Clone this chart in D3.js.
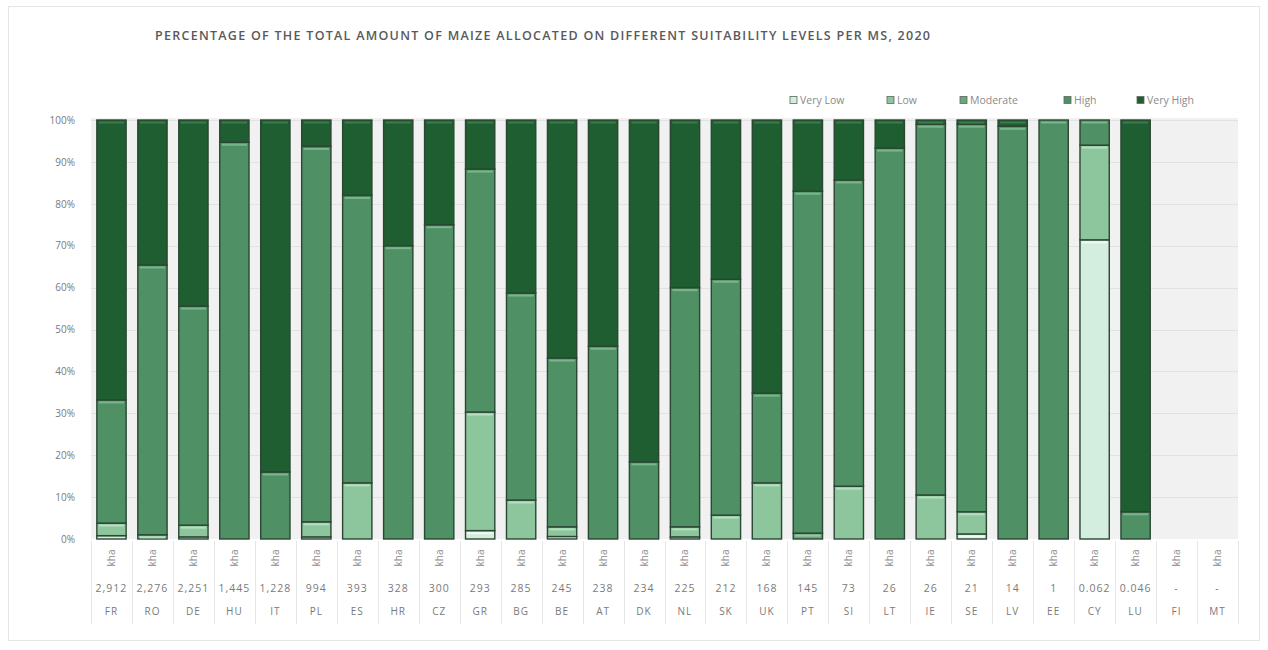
<!DOCTYPE html>
<html>
<head>
<meta charset="utf-8">
<script src="https://cdn.jsdelivr.net/npm/d3@7"></script>
<style>
  html, body { margin: 0; padding: 0; background: #fff; }
  svg { display: block; font-family: "Open Sans", "Noto Sans", sans-serif; }
</style>
</head>
<body>
<svg id="chart" width="1268" height="650"></svg>
<script>
// Member states, ordered by maize area
const countries = ["FR","RO","DE","HU","IT","PL","ES","HR","CZ","GR","BG","BE","AT","DK","NL","SK","UK","PT","SI","LT","IE","SE","LV","EE","CY","LU","FI","MT"];
// Total maize area per member state (thousand ha)
const totals = ["2,912","2,276","2,251","1,445","1,228","994","393","328","300","293","285","245","238","234","225","212","168","145","73","26","26","21","14","1","0.062","0.046","-","-"];
const unitLabel = "kha";

// Share of area (%) per suitability level
const veryLow  = [0.8, 0,   0.5, 0,    0,    0.5, 0,    0,  0,  2.0,  0,    0.6, 0,  0,    0.5, 0,    0,    0,    0,    0,    0,    1.2, 0,    0,   71.4, 0,    0, 0];
const low      = [3.0, 1.0, 2.8, 0,    0,    3.6, 13.4, 0,  0,  28.3, 9.3,  2.3, 0,  0,    2.4, 5.7,  13.4, 0,    12.6, 0,    10.5, 5.3, 0,    0,   22.6, 0,    0, 0];
const moderate = [0,   0,   0,   0,    0,    0,   0,    0,  0,  0,    0,    0,   0,  0,    0,   0,    0,    1.4,  0,    0,    0,    0,   0,    0,   0,    0,    0, 0];
const high     = [29.4,64.4,52.3,94.7, 16.0, 89.6,68.6, 70, 75, 58.0, 49.4, 40.3,46, 18.4, 57.1,56.3, 21.4, 81.6, 73.1, 93.3, 88.5, 92.5,98.5, 100, 6.0,  6.5,  0, 0];
const veryHigh = [66.8,34.6,44.4,5.3,  84.0, 6.3, 18.0, 30, 25, 11.7, 41.3, 56.8,54, 81.6, 40.0,38.0, 65.2, 17.0, 14.3, 6.7,  1.0,  1.0, 1.5,  0,   0,    93.5, 0, 0];

const levels = ["Very Low","Low","Moderate","High","Very High"];
const yTicks = [0,10,20,30,40,50,60,70,80,90,100];

const levelFill  = {"Very Low":"#d3eedf","Low":"#8dc59c","Moderate":"#6ea57f","High":"#4f9064","Very High":"#1f5e30"};
const levelShine = {"Very Low":"#eefaf3","Low":"#b5dfc0","Moderate":"#97c7a4","High":"#7ab68b","Very High":"#3b7d4c"};

const rows = countries.map((c, i) => ({
  country: c,
  "Very Low": veryLow[i], "Low": low[i], "Moderate": moderate[i],
  "High": high[i], "Very High": veryHigh[i]
}));

const svg = d3.select("#chart");

// outer frame
svg.append("rect").attr("x", 8.5).attr("y", 6.5).attr("width", 1251).attr("height", 634)
  .attr("fill", "#fff").attr("stroke", "#e6e6e6");

const plot = {left: 91, right: 1238, top: 120, bottom: 539};

const x = d3.scaleBand().domain(countries).range([plot.left, plot.right])
  .paddingInner(0.285).paddingOuter(0.1425);
const y = d3.scaleLinear().domain([0, 100]).range([plot.bottom, plot.top]);

// title
svg.append("text").attr("x", 155).attr("y", 40)
  .attr("font-size", 12.5).attr("font-weight", 600).attr("fill", "#595959")
  .attr("textLength", 775).attr("lengthAdjust", "spacing")
  .text("PERCENTAGE OF THE TOTAL AMOUNT OF MAIZE ALLOCATED ON DIFFERENT SUITABILITY LEVELS PER MS, 2020");

// plot background and gridlines
svg.append("rect").attr("x", plot.left).attr("y", plot.top - 2)
  .attr("width", plot.right - plot.left).attr("height", plot.bottom - plot.top + 2)
  .attr("fill", "#f1f1f1");
svg.append("g").selectAll("line").data(yTicks.slice(1)).join("line")
  .attr("x1", plot.left).attr("x2", plot.right)
  .attr("y1", d => Math.round(y(d)) + 0.5).attr("y2", d => Math.round(y(d)) + 0.5)
  .attr("stroke", "#e2e2e2");

// y axis
const yAxis = svg.append("g").attr("transform", `translate(${plot.left - 13},0)`)
  .call(d3.axisLeft(y).tickValues(yTicks).tickFormat(d => d + "%").tickSize(0));
yAxis.select(".domain").remove();
yAxis.selectAll("text").attr("font-size", 10).attr("fill", "#7a7a7a")
  .attr("font-family", "\"Open Sans\", sans-serif");

// stacked bars
const stacked = d3.stack().keys(levels)(rows);
const bw = x.bandwidth();
const layer = svg.append("g").selectAll("g").data(stacked).join("g");
layer.each(function(series) {
  const key = series.key;
  const g = d3.select(this);
  const segs = series.filter(d => d[1] - d[0] > 0);
  g.selectAll("rect").data(segs).join("rect")
    .attr("x", d => x(d.data.country))
    .attr("y", d => y(d[1]))
    .attr("width", bw)
    .attr("height", d => y(d[0]) - y(d[1]))
    .attr("fill", levelFill[key])
    .attr("stroke", "#2b4633").attr("stroke-width", 1.4);
  // bevel highlight along the top of each segment
  g.selectAll("line").data(segs.filter(d => y(d[0]) - y(d[1]) > 4)).join("line")
    .attr("x1", d => x(d.data.country) + 2).attr("x2", d => x(d.data.country) + bw - 2)
    .attr("y1", d => y(d[1]) + 2.5).attr("y2", d => y(d[1]) + 2.5)
    .attr("stroke", levelShine[key]).attr("stroke-width", 2);
});

// data table below the axis
const table = svg.append("g");
const step = x.step();
table.selectAll("line.sep").data(countries.concat(["_end"])).join("line")
  .attr("class", "sep")
  .attr("x1", (c, i) => Math.round(plot.left + i * step) + 0.5)
  .attr("x2", (c, i) => Math.round(plot.left + i * step) + 0.5)
  .attr("y1", plot.bottom + 2).attr("y2", 624)
  .attr("stroke", "#e6e6e6");

const cx = c => x(c) + bw / 2;
table.selectAll("text.unit").data(countries).join("text")
  .attr("class", "unit")
  .attr("transform", c => `translate(${cx(c) + 3.5},558) rotate(-90)`)
  .attr("text-anchor", "middle").attr("font-size", 10).attr("fill", "#8a8a8a")
  .text(unitLabel);
table.selectAll("text.total").data(countries).join("text")
  .attr("class", "total")
  .attr("x", cx).attr("y", 592)
  .attr("text-anchor", "middle").attr("font-size", 10.5).attr("fill", "#7a7a7a")
  .attr("letter-spacing", 1)
  .text((c, i) => totals[i]);
table.selectAll("text.country").data(countries).join("text")
  .attr("class", "country")
  .attr("x", cx).attr("y", 615)
  .attr("text-anchor", "middle").attr("font-size", 10).attr("fill", "#7a7a7a")
  .attr("letter-spacing", 1)
  .text(c => c);

// legend
const legendX = [793, 890, 963, 1067, 1140];
const legend = svg.append("g").selectAll("g").data(levels).join("g")
  .attr("transform", (d, i) => `translate(${legendX[i]},100)`);
legend.append("rect").attr("x", -3).attr("y", -3.5).attr("width", 7).attr("height", 7)
  .attr("fill", d => levelFill[d]).attr("stroke", "#5a6a5f").attr("stroke-width", 0.8);
legend.append("text").attr("x", 7).attr("y", 3.8)
  .attr("font-size", 10.5).attr("fill", "#8a8a8a")
  .text(d => d);
</script>
</body>
</html>
